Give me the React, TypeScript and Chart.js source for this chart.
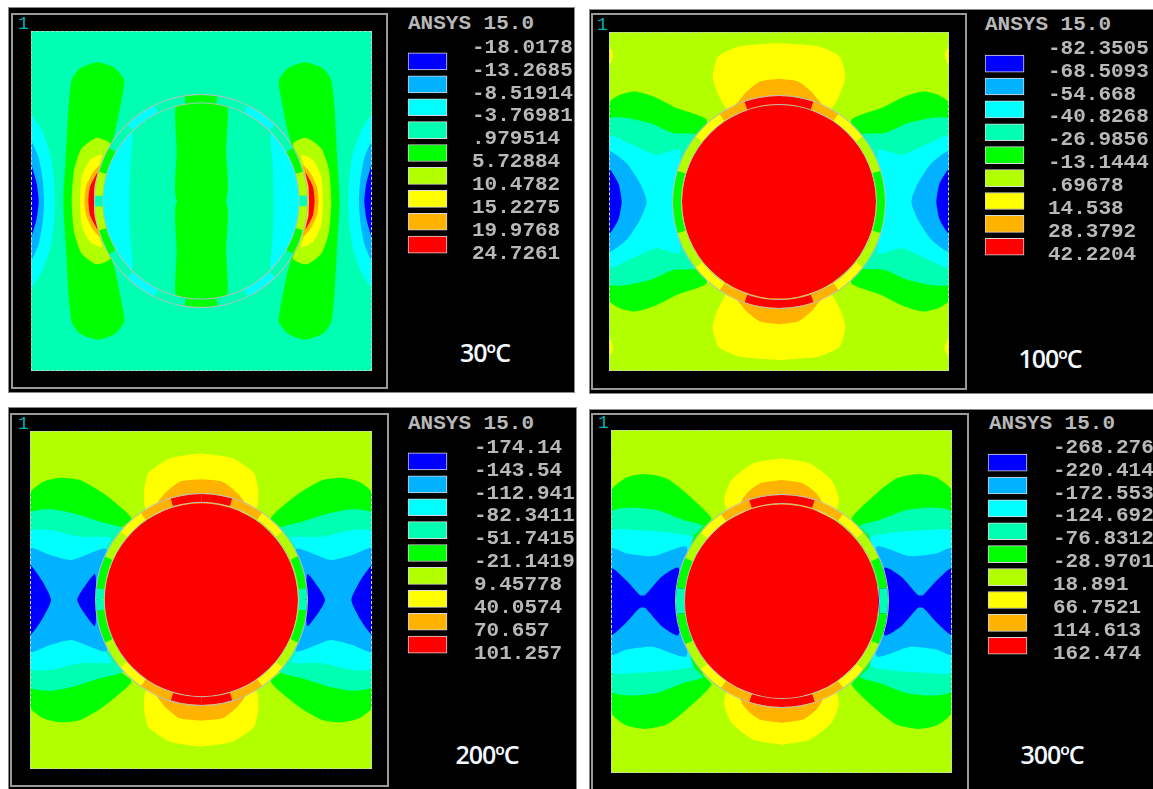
import React, { useEffect, useRef } from "react";
import { Chart, registerables } from "chart.js";

Chart.register(...registerables);

const BLUE = "#0000FF", AZURE = "#00B2FF", CYAN = "#00FFFF", TEAL = "#00FFB2", GREEN = "#00FF00";
const LIME = "#B2FF00", YELLOW = "#FFFF00", ORANGE = "#FFB200", RED = "#FF0000";
const legendColors = [BLUE, AZURE, CYAN, TEAL, GREEN, LIME, YELLOW, ORANGE, RED];

// Contour levels printed beside each plot
const labels30 = ["-18.0178", "-13.2685", "-8.51914", "-3.76981", ".979514", "5.72884", "10.4782", "15.2275", "19.9768", "24.7261"];
const labels100 = ["-82.3505", "-68.5093", "-54.668", "-40.8268", "-26.9856", "-13.1444", ".69678", "14.538", "28.3792", "42.2204"];
const labels200 = ["-174.14", "-143.54", "-112.941", "-82.3411", "-51.7415", "-21.1419", "9.45778", "40.0574", "70.657", "101.257"];
const labels300 = ["-268.276", "-220.414", "-172.553", "-124.692", "-76.8312", "-28.9701", "18.891", "66.7521", "114.613", "162.474"];

type P = number[];
// Contour outlines, one quadrant each
const a_green: P[] = [[300, 603], [335, 430], [345, 396], [369, 275], [372, 240], [345, 205], [295, 187], [240, 205], [215, 240], [205, 330], [197, 480], [190, 603]];
const a_lime: P[] = [[300, 603], [310, 480], [330, 430], [290, 413], [245, 445], [222, 510], [215, 603]];
const a_yellow: P[] = [[283, 603], [290, 520], [305, 465], [270, 480], [245, 530], [240, 603]];
const a_orange: P[] = [[282, 603], [285, 560], [300, 495], [278, 518], [258, 560], [253, 603]];
const a_red: P[] = [[282, 603], [283, 560], [292, 518], [270, 560], [265, 603]];
const a_cyanEdge: P[] = [[93, 603], [93, 345], [125, 390], [150, 460], [162, 540], [164, 603]];
const a_azureEdge: P[] = [[93, 603], [93, 425], [115, 470], [128, 540], [132, 603]];
const a_blueEdge: P[] = [[93, 603], [93, 495], [110, 550], [116, 603]];
const a_lens: P[] = [[388, 603], [390, 500], [396, 395], [352, 452], [325, 510], [313, 560], [310, 603]];
const a_band: P[] = [[604, 309], [565, 312], [527, 319], [530, 450], [532, 603]];
const ringSpans30 = [3, 13, 14, 16, 18, 17, 9];
const ringColors30 = [TEAL, LIME, GREEN, TEAL, CYAN, TEAL, GREEN];

const b_yellow: P[] = [[567, 130], [450, 140], [385, 170], [368, 230], [385, 285], [420, 340], [567, 400]];
const b_orange: P[] = [[567, 237], [510, 245], [470, 275], [450, 300], [420, 340], [567, 400]];
const b_sliver: P[] = [[57, 135], [70, 165], [57, 200]];
const b_green: P[] = [[57, 605], [57, 310], [90, 285], [135, 275], [190, 290], [260, 325], [350, 360], [330, 420], [250, 605]];
const b_teal: P[] = [[57, 605], [57, 358], [110, 355], [180, 370], [250, 400], [320, 405], [300, 450], [250, 605]];
const b_cyan: P[] = [[57, 605], [57, 408], [120, 432], [200, 465], [270, 450], [255, 605]];
const b_azure: P[] = [[57, 605], [57, 455], [110, 490], [150, 550], [170, 605]];
const b_blue: P[] = [[57, 605], [57, 508], [85, 550], [95, 605]];
const ringSpans100 = [17, 21, 18, 15, 19];
const ringColors100 = [GREEN, LIME, YELLOW, ORANGE, RED];

const c_yellow: P[] = [[604, 160], [510, 175], [445, 220], [432, 280], [440, 330], [604, 400]];
const c_orange: P[] = [[604, 238], [540, 245], [495, 280], [470, 320], [604, 400]];
const c_green: P[] = [[90, 600], [90, 280], [130, 245], [180, 233], [240, 240], [310, 280], [395, 355], [360, 390], [300, 600]];
const c_teal: P[] = [[90, 600], [90, 340], [150, 328], [220, 340], [300, 365], [370, 385], [340, 420], [300, 600]];
const c_cyan: P[] = [[90, 600], [90, 395], [150, 390], [240, 410], [335, 412], [320, 440], [300, 600]];
const c_azure: P[] = [[90, 600], [90, 445], [150, 465], [215, 480], [320, 447], [300, 600]];
const c_blueOuter: P[] = [[90, 600], [90, 495], [125, 540], [153, 600]];
const c_blueInner: P[] = [[290, 600], [285, 522], [250, 565], [232, 600]];
const ringSpans200 = [6, 18, 16, 15, 18, 17];
const ringColors200 = [TEAL, GREEN, LIME, YELLOW, ORANGE, RED];

const d_yellow: P[] = [[575, 175], [490, 190], [425, 240], [403, 295], [415, 340], [575, 400]];
const d_orange: P[] = [[575, 240], [510, 250], [470, 280], [450, 320], [575, 400]];
const d_green: P[] = [[65, 604], [65, 270], [110, 232], [165, 222], [230, 235], [290, 280], [365, 355], [340, 385], [280, 604]];
const d_teal: P[] = [[65, 604], [65, 335], [120, 322], [200, 330], [280, 360], [340, 378], [310, 410], [280, 604]];
const d_cyan: P[] = [[65, 604], [65, 392], [130, 390], [220, 395], [310, 410], [300, 435], [280, 604]];
const d_azure: P[] = [[65, 604], [65, 445], [110, 460], [190, 468], [290, 440], [280, 604]];
const d_blue: P[] = [[65, 604], [65, 505], [110, 542], [150, 585], [165, 585], [215, 530], [265, 503], [285, 604]];
const ringSpans300 = [7, 17, 16, 15, 17, 18];
const ringColors300 = [TEAL, GREEN, LIME, YELLOW, ORANGE, RED];

type Shape = { c: string; k: "side" | "cap" | "quad"; p: P[] };
type Panel = {
  ox: number; oy: number; dom: number[]; cx: number; cy: number; rOut: number; rIn: number;
  disk: string; under: Shape[]; over: Shape[]; spans: number[]; ringColors: string[];
  labels: string[]; labelX: number; labelY: number; swatchX: number; swatchRow: number;
  ansysX: number; ansysY: number; numX: number; numY: number; temp: string; tempX: number; tempY: number;
  bg: string; black: number[]; frame: number[];
};

const panels: Panel[] = [
  {
    ox: 0, oy: 0, dom: [93, 1115, 93, 1113], cx: 604, cy: 603, rOut: 321, rIn: 293, disk: TEAL, bg: TEAL,
    under: [
      { c: CYAN, k: "side", p: a_cyanEdge }, { c: AZURE, k: "side", p: a_azureEdge }, { c: BLUE, k: "side", p: a_blueEdge },
      { c: GREEN, k: "side", p: a_green }, { c: LIME, k: "side", p: a_lime }, { c: YELLOW, k: "side", p: a_yellow },
      { c: ORANGE, k: "side", p: a_orange }, { c: RED, k: "side", p: a_red },
    ],
    over: [{ c: CYAN, k: "side", p: a_lens }, { c: GREEN, k: "cap", p: a_band }],
    spans: ringSpans30, ringColors: ringColors30, labels: labels30, labelX: 472, labelY: 47, swatchX: 408, swatchRow: 0.61,
    ansysX: 408, ansysY: 24, numX: 24, numY: 24, temp: "30ºC", tempX: 485, tempY: 352,
    black: [9, 8, 565, 384], frame: [11, 13, 377, 376],
  },
  {
    ox: 590, oy: 0, dom: [57, 1077, 97, 1113], cx: 567, cy: 605, rOut: 321, rIn: 291, disk: RED, bg: LIME,
    under: [
      { c: YELLOW, k: "cap", p: b_yellow }, { c: ORANGE, k: "cap", p: b_orange }, { c: YELLOW, k: "quad", p: b_sliver },
      { c: GREEN, k: "side", p: b_green }, { c: TEAL, k: "side", p: b_teal }, { c: CYAN, k: "side", p: b_cyan },
      { c: AZURE, k: "side", p: b_azure }, { c: BLUE, k: "side", p: b_blue },
    ],
    over: [], spans: ringSpans100, ringColors: ringColors100, labels: labels100, labelX: 1048, labelY: 48, swatchX: 985, swatchRow: 0.66,
    ansysX: 985, ansysY: 25, numX: 603, numY: 25, temp: "100ºC", tempX: 1050, tempY: 358,
    black: [590, 10, 563, 383], frame: [591, 13, 376, 377],
  },
  {
    ox: 0, oy: 400, dom: [90, 1117, 93, 1107], cx: 604, cy: 600, rOut: 320, rIn: 290, disk: RED, bg: LIME,
    under: [
      { c: YELLOW, k: "cap", p: c_yellow }, { c: ORANGE, k: "cap", p: c_orange },
      { c: GREEN, k: "side", p: c_green }, { c: TEAL, k: "side", p: c_teal }, { c: CYAN, k: "side", p: c_cyan },
      { c: AZURE, k: "side", p: c_azure }, { c: BLUE, k: "side", p: c_blueOuter }, { c: BLUE, k: "side", p: c_blueInner },
    ],
    over: [], spans: ringSpans200, ringColors: ringColors200, labels: labels200, labelX: 474, labelY: 447, swatchX: 408, swatchRow: 0.61,
    ansysX: 408, ansysY: 424, numX: 24, numY: 424, temp: "200ºC", tempX: 487, tempY: 754,
    black: [9, 408, 567, 381], frame: [10, 413, 379, 374],
  },
  {
    ox: 590, oy: 400, dom: [63, 1087, 90, 1118], cx: 575, cy: 604, rOut: 321, rIn: 291, disk: RED, bg: LIME,
    under: [
      { c: YELLOW, k: "cap", p: d_yellow }, { c: ORANGE, k: "cap", p: d_orange },
      { c: GREEN, k: "side", p: d_green }, { c: TEAL, k: "side", p: d_teal }, { c: CYAN, k: "side", p: d_cyan },
      { c: AZURE, k: "side", p: d_azure }, { c: BLUE, k: "side", p: d_blue },
    ],
    over: [], spans: ringSpans300, ringColors: ringColors300, labels: labels300, labelX: 1053, labelY: 447, swatchX: 988, swatchRow: 0.66,
    ansysX: 989, ansysY: 424, numX: 604, numY: 423, temp: "300ºC", tempX: 1052, tempY: 754,
    black: [590, 410, 563, 379], frame: [591, 413, 378, 380],
  },
];

const ROW = 22.9;
const Z = 3; // the outlines above are stored at 3x the page scale

const dedupe = (a: P[]) => a.filter((q, i) => i === 0 || q[0] !== a[i - 1][0] || q[1] !== a[i - 1][1]);

function polysFor(s: Shape, cx: number, cy: number): P[][] {
  const mx = (a: P[]) => a.map(([x, y]) => [2 * cx - x, y]);
  const my = (a: P[]) => a.map(([x, y]) => [x, 2 * cy - y]);
  if (s.k === "side") {
    const poly = dedupe([...s.p, ...my(s.p).reverse()]);
    return [poly, mx(poly)];
  }
  if (s.k === "cap") {
    const poly = dedupe([...s.p, ...mx(s.p).reverse()]);
    return [poly, my(poly)];
  }
  return [s.p, mx(s.p), my(s.p), mx(my(s.p))];
}

function shapeDatasets(shapes: Shape[], cx: number, cy: number) {
  const out: any[] = [];
  shapes.forEach((s) =>
    polysFor(s, cx, cy).forEach((poly) =>
      out.push({
        type: "scatter",
        data: dedupe([...poly, poly[0]]).map(([x, y]) => ({ x, y })),
        showLine: true,
        fill: "shape",
        tension: 0.2,
        backgroundColor: s.c,
        borderColor: s.c,
        borderWidth: 0,
        pointRadius: 0,
      })
    )
  );
  return out;
}

function makeContour(canvas: HTMLCanvasElement, p: Panel) {
  const ds = [
    ...shapeDatasets(p.under, p.cx, p.cy),
    {
      type: "scatter",
      data: [{ x: p.cx, y: p.cy }],
      pointRadius: p.rIn / Z,
      pointBackgroundColor: p.disk,
      pointBorderWidth: 0,
      showLine: false,
    },
    ...shapeDatasets(p.over, p.cx, p.cy),
  ];
  ds.forEach((d, i) => (d.order = ds.length - i));
  return new Chart(canvas, {
    type: "scatter",
    data: { datasets: ds },
    options: {
      animation: false,
      responsive: false,
      events: [],
      layout: { padding: 0, autoPadding: false },
      plugins: { legend: { display: false }, tooltip: { enabled: false }, title: { display: false } },
      scales: {
        x: { type: "linear", min: p.dom[0], max: p.dom[1], display: false },
        y: { type: "linear", min: p.dom[2], max: p.dom[3], reverse: true, display: false },
      },
    },
  } as any);
}

function makeRing(canvas: HTMLCanvasElement, p: Panel) {
  const rev = [...p.spans].reverse();
  const revC = [...p.ringColors].reverse();
  const data = [...rev, ...p.spans, ...rev, ...p.spans];
  const colors = [...revC, ...p.ringColors, ...revC, ...p.ringColors];
  const t = (p.rOut - p.rIn) / Z;
  return new Chart(canvas, {
    type: "doughnut",
    data: {
      datasets: [
        { data: [1], backgroundColor: ["#bdbdbd"], borderWidth: 0, weight: 1 },
        { data, backgroundColor: colors, borderColor: colors, borderWidth: 0, weight: t - 2 },
        { data: [1], backgroundColor: ["#bdbdbd"], borderWidth: 0, weight: 1 },
      ],
    },
    options: {
      animation: false,
      responsive: false,
      events: [],
      cutout: p.rIn / Z,
      layout: { padding: 0 },
      plugins: { legend: { display: false }, tooltip: { enabled: false } },
    },
  } as any);
}

function makeLegend(canvas: HTMLCanvasElement, p: Panel, width: number) {
  const plotW = p.labelX - p.swatchX;
  return new Chart(canvas, {
    type: "bar",
    data: {
      datasets: [
        {
          data: legendColors.map((_, i) => ({ x: 39 / plotW, y: i + p.swatchRow })),
          backgroundColor: legendColors,
          borderColor: "#d8d8d8",
          borderWidth: 1,
          borderSkipped: false,
          barThickness: 17,
        },
      ],
    },
    options: {
      indexAxis: "y",
      animation: false,
      responsive: false,
      events: [],
      layout: { padding: 0, autoPadding: false },
      plugins: { legend: { display: false }, tooltip: { enabled: false } },
      scales: {
        x: { type: "linear", min: 0, max: 1, display: false },
        y: {
          type: "linear",
          position: "right",
          min: -0.5,
          max: 9.5,
          reverse: true,
          offset: false,
          grid: { display: false, drawTicks: false },
          border: { display: false },
          afterFit: (sc: any) => { sc.width = width - plotW; sc.paddingTop = 0; sc.paddingBottom = 0; },
          afterBuildTicks: (sc: any) => { sc.ticks = p.labels.map((_, i) => ({ value: i })); },
          ticks: {
            autoSkip: false,
            padding: 0,
            color: "#b8b8b8",
            font: { family: "'Liberation Mono', monospace", size: 21, weight: "bold" },
            callback: (v: number) => p.labels[v],
          },
        },
      },
    },
  } as any);
}

const mono = "'Liberation Mono', monospace";

function PanelView({ p }: { p: Panel }) {
  const contourRef = useRef<HTMLCanvasElement>(null);
  const ringRef = useRef<HTMLCanvasElement>(null);
  const legendRef = useRef<HTMLCanvasElement>(null);
  const left = p.ox + p.dom[0] / Z, top = p.oy + p.dom[2] / Z;
  const w = (p.dom[1] - p.dom[0]) / Z, h = (p.dom[3] - p.dom[2]) / Z;
  const R = p.rOut / Z;
  const rl = p.ox + p.cx / Z - R, rt = p.oy + p.cy / Z - R;
  const legW = p.black[0] + p.black[2] - p.swatchX;
  useEffect(() => {
    const a = makeContour(contourRef.current!, p);
    const b = makeRing(ringRef.current!, p);
    const c = makeLegend(legendRef.current!, p, legW);
    return () => { a.destroy(); b.destroy(); c.destroy(); };
  }, []);
  const abs = (l: number, t: number, extra: any = {}) => ({ position: "absolute", left: l, top: t, ...extra });
  return (
    <>
      <div style={abs(p.black[0], p.black[1], { width: p.black[2], height: p.black[3], background: "#000", boxShadow: "0 0 0 1px #888" }) as any} />
      <div style={abs(p.frame[0], p.frame[1], { width: p.frame[2], height: p.frame[3], border: "2px solid #9a9a9a", boxSizing: "border-box" }) as any} />
      <canvas ref={contourRef} width={Math.round(w)} height={Math.round(h)} style={abs(left, top, { width: Math.round(w), height: Math.round(h), background: p.bg, outline: "1px dashed #d0d0d0", outlineOffset: -1 }) as any} />
      <canvas ref={ringRef} width={Math.round(2 * R)} height={Math.round(2 * R)} style={abs(rl, rt, { width: Math.round(2 * R), height: Math.round(2 * R) }) as any} />
      <canvas ref={legendRef} width={Math.round(legW)} height={Math.round(10 * ROW)} style={abs(p.swatchX, p.labelY - ROW / 2, { width: Math.round(legW), height: Math.round(10 * ROW) }) as any} />
      <div style={abs(p.ansysX, p.ansysY - 12, { font: `bold 21px/24px ${mono}`, color: "#b8b8b8", whiteSpace: "pre" }) as any}>ANSYS 15.0</div>
      <div style={abs(p.numX - 6, p.numY - 11, { font: `18px/22px ${mono}`, color: "#00b4b4" }) as any}>1</div>
      <div style={abs(p.tempX - 60, p.tempY - 16, { width: 120, textAlign: "center", font: `600 25px/32px 'Open Sans', sans-serif`, letterSpacing: -1, color: "#f4f8ff" }) as any}>{p.temp}</div>
    </>
  );
}

export default function App() {
  return (
    <div style={{ position: "fixed", left: 0, top: 0, width: 1153, height: 789, overflow: "hidden", background: "#fff", filter: "blur(0.6px)" }}>
      {panels.map((p) => <PanelView key={p.temp} p={p} />)}
    </div>
  );
}
